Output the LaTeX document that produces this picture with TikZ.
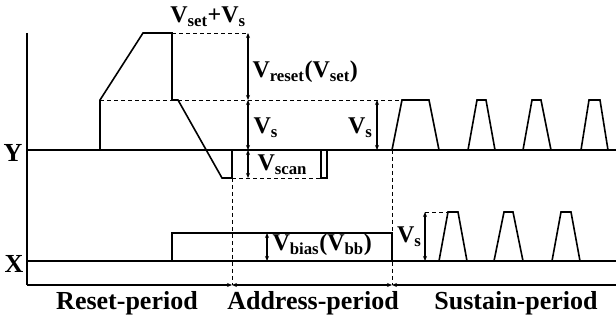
\documentclass[tikz,border=0pt]{standalone}
\usepackage{fontspec}
\setmainfont{Liberation Serif}
\usetikzlibrary{arrows.meta}
\tikzset{every picture/.style={line width=1.5pt}}
\tikzset{
  wave/.style={line width=1.6pt, line join=miter},
  guide/.style={dash pattern=on 4pt off 3pt, line width=0.8pt},
  dimline/.style={line width=1.2pt, {Stealth[length=5pt,width=4pt]}-{Stealth[length=5pt,width=4pt]}},
  lbl/.style={inner sep=0.75pt, font=\fontsize{24}{24}\selectfont\bfseries},
  biglbl/.style={inner sep=0.75pt, font=\fontsize{26}{26}\selectfont\bfseries},
}

\begin{document}
\begin{tikzpicture}[x=1pt,y=1pt,yscale=-1,xscale=1]
\useasboundingbox (0,0) rectangle (616,320);

%Axes
\draw [wave]    (27,33) -- (27,285) ;
\coordinate (o) at (27,285);
\coordinate (ra) at (232,285);
\coordinate (as) at (392,285);
\coordinate (e) at (616,285);
\draw [wave, -{Stealth[length=5pt,width=4pt]}]    (o) -- (ra) ;
\draw [wave, {Stealth[length=5pt,width=4pt]}-{Stealth[length=5pt,width=4pt]}]    (ra) -- (as) ;
\draw [wave, {Stealth[length=5pt,width=4pt]}-]    (as) -- (e) ;
%Baselines
\draw [wave]    (27,150) -- (616,150) ;
\draw [wave]    (27,261) -- (616,261) ;

%Y waveform
\draw [wave]    (100,150) -- (100,100) -- (143,33) -- (172,33) -- (172,100) -- (178,100) -- (222,178) -- (232,178) -- (232,150) ;
\draw [line width=1.3pt]    (321,150) -- (321,178) -- (327,178) -- (327,150) ;
\foreach \a/\b/\c/\d in {392/402/429/439, 468/477/486/495, 523/532/541/551, 581/589/600/608}
  \draw [wave]    (\a,150) -- (\b,100) -- (\c,100) -- (\d,150) ;

%X waveform
\draw [wave]    (172,261) -- (172,233) -- (392,233) -- (392,261) ;
\foreach \a/\b/\c/\d in {439/448/458/467, 494/504/513/523, 552/561/571/580}
  \draw [wave]    (\a,261) -- (\b,212) -- (\c,212) -- (\d,261) ;

%Guides
\draw [guide]    (172,33) -- (248,33) ;
\draw [guide]    (100,100) -- (172,100) ;
\draw [guide]    (178,100) -- (402,100) ;
\draw [guide]    (232,178) -- (321,178) ;
\draw [guide]    (232,178) -- (232,285) ;
\draw [guide]    (392,150) -- (392,285) ;
\draw [guide]    (425,212) -- (448,212) ;

%Dimensions
\draw [dimline]    (248,33) -- (248,100) ;
\draw [dimline]    (248,100) -- (248,150) ;
\draw [dimline]    (248,150) -- (248,178) ;
\draw [dimline]    (377,100) -- (377,150) ;
\draw [dimline]    (267,233) -- (267,261) ;
\draw [dimline]    (425,212) -- (425,261) ;

% Text Node
\node [lbl] (vsetvs) at (208,17) {V\textsubscript{set}+V\textsubscript{s}};
\node [lbl, anchor=west] (vreset) at (251,72) {V\textsubscript{reset}(V\textsubscript{set})};
\node [lbl, anchor=west] (vsa) at (252,128) {V\textsubscript{s}};
\node [lbl, anchor=east] (vsb) at (374,128) {V\textsubscript{s}};
\node [lbl, anchor=west] (vscan) at (256,165) {V\textsubscript{scan}};
\node [lbl, anchor=west] (vbias) at (271,245) {V\textsubscript{bias}(V\textsubscript{bb})};
\node [lbl, anchor=east] (vsc) at (423,237) {V\textsubscript{s}};
% Text Node
\node [biglbl] (ylab) at (13,153) {Y};
\node [biglbl] (xlab) at (14,264) {X};
% Text Node
\node [biglbl] (reset) at (127,303) {Reset-period};
\node [biglbl] (address) at (313,303) {Address-period};
\node [biglbl] (sustain) at (516,303) {Sustain-period};

\end{tikzpicture}
\end{document}
